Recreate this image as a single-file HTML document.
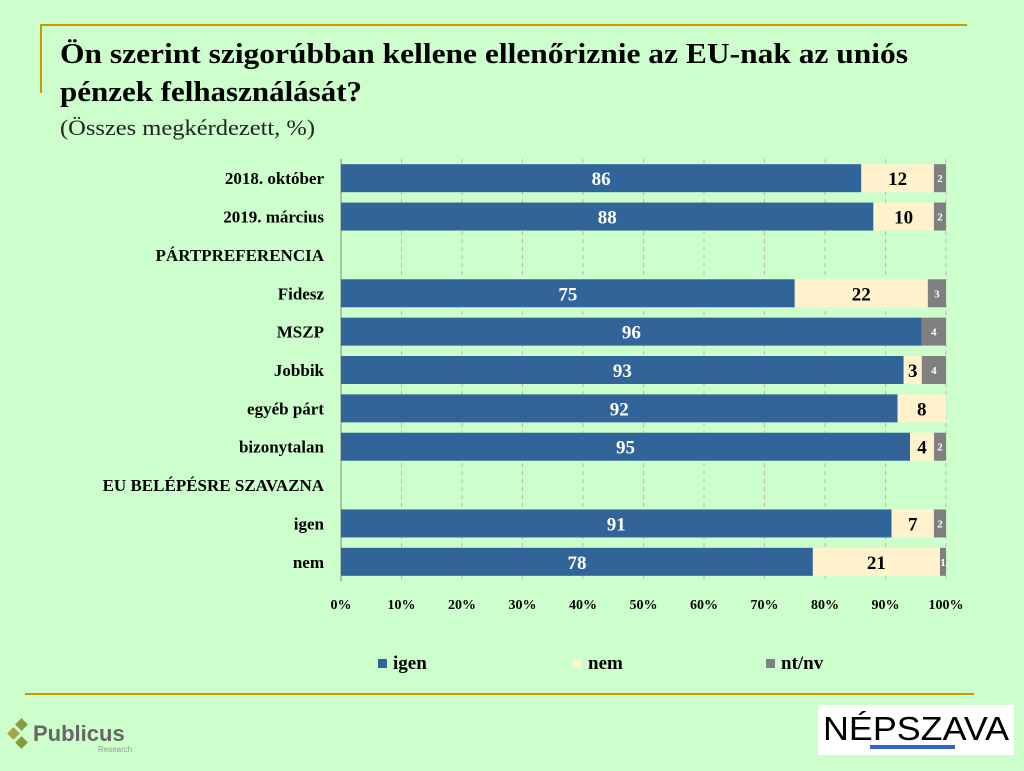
<!DOCTYPE html>
<html><head><meta charset="utf-8"><style>
body{margin:0;width:1024px;height:771px;background:#ccffcc;overflow:hidden;font-family:"Liberation Serif",serif;}
svg{position:absolute;left:0;top:0}
</style></head><body>
<svg width="1024" height="771">
<line x1="40" y1="25" x2="967" y2="25" stroke="#cc9900" stroke-width="2"/>
<line x1="41" y1="25" x2="41" y2="93" stroke="#cc9900" stroke-width="2"/>
<text x="60" y="63" font-size="29" font-weight="bold" fill="#000" textLength="848" lengthAdjust="spacingAndGlyphs">Ön szerint szigorúbban kellene ellenőrizni­e az EU-nak az uniós</text>
<text x="60" y="101" font-size="29" font-weight="bold" fill="#000" textLength="302" lengthAdjust="spacingAndGlyphs">pénzek felhasználását?</text>
<text x="60" y="135" font-size="22" fill="#222" textLength="255" lengthAdjust="spacingAndGlyphs">(Összes megkérdezett, %)</text>
<g id="plot"></g>
<line x1="25" y1="694" x2="974" y2="694" stroke="#cc9900" stroke-width="2"/>
<g>
<rect x="17" y="720" width="9" height="9" transform="rotate(45 21.5 724.5)" fill="#8a9a3a"/>
<rect x="9" y="729" width="9" height="9" transform="rotate(45 13.5 733.5)" fill="#a0a848"/>
<rect x="17" y="738" width="9" height="9" transform="rotate(45 21.5 742.5)" fill="#8a9a3a"/>
<text x="33" y="741" font-family="Liberation Sans,sans-serif" font-size="22" font-weight="bold" fill="#666">Publicus</text>
<text x="98" y="752" font-family="Liberation Sans,sans-serif" font-size="8" fill="#999">Research</text>
</g>
<g>
<rect x="818" y="705" width="196" height="50" fill="#fff"/>
<text x="916" y="740" text-anchor="middle" font-family="Liberation Sans,sans-serif" font-size="33" fill="#000" textLength="186" lengthAdjust="spacingAndGlyphs">NÉPSZAVA</text>
<rect x="870" y="745" width="85" height="4" fill="#3366cc"/>
</g>
</svg>
<script>
const categories=["2018. október","2019. március","PÁRTPREFERENCIA","Fidesz","MSZP","Jobbik","egyéb párt","bizonytalan","EU BELÉPÉSRE SZAVAZNA","igen","nem"];
const igenValues=[86,88,null,75,96,93,92,95,null,91,78];
const nemValues=[12,10,null,22,0,3,8,4,null,7,21];
const ntnvValues=[2,2,null,3,4,4,0,2,null,2,1];
const tickLabels=["0%","10%","20%","30%","40%","50%","60%","70%","80%","90%","100%"];
const seriesNames=["igen","nem","nt/nv"];
const colors=["#31659a","#fff2cc","#808080"];
const NS="http://www.w3.org/2000/svg";
const g=document.getElementById('plot');
const x0=341,x1=946,top0=159,bot=581;
const band=(bot-top0)/categories.length;
const xs=v=>x0+(x1-x0)*v/100;
const yc=i=>top0+band*(i+0.5);
function mk(t,a){const e=document.createElementNS(NS,t);for(const k in a)e.setAttribute(k,a[k]);g.appendChild(e);return e;}
tickLabels.forEach((l,i)=>{const x=xs(i*10);
 if(i>0){const ln=mk('line',{x1:x,y1:top0,x2:x,y2:bot,stroke:'#b8b8b8','stroke-dasharray':'4,4'});
 
 }
 const t=mk('text',{x:x,y:609,'text-anchor':'middle','font-size':14,'font-weight':'bold'});t.textContent=l;
 
 });
const ax=mk('line',{x1:x0,y1:top0,x2:x0,y2:bot,stroke:'#888'});


categories.forEach((c,i)=>{const y=yc(i);
 const t=mk('text',{x:324,y:y+6,'text-anchor':'end','font-size':17,'font-weight':'bold'});t.textContent=c;
 
 
 if(igenValues[i]==null)return;
 const vals=[igenValues[i],nemValues[i],ntnvValues[i]];
 const tot=vals.reduce((a,b)=>a+b,0);let acc=0;
 vals.forEach((v,s)=>{if(!v){return;}
  const p=v*100/tot;
  const r=mk('rect',{x:xs(acc),y:y-14,width:xs(acc+p)-xs(acc),height:28,fill:colors[s]});
  
  
  const fs=s==2?11:19;
  const tx=mk('text',{x:(xs(acc)+xs(acc+p))/2,y:y+(s==2?4:7),'text-anchor':'middle','font-size':fs,'font-weight':'bold',fill:s==1?'#000':'#fff'});
  tx.textContent=v;
  
  
  acc+=p;});
});
const lx=[378,573,766];
seriesNames.forEach((n,s)=>{
 const r=mk('rect',{x:lx[s],y:659,width:9,height:9,fill:colors[s]});
 
 
 const t=mk('text',{x:lx[s]+15,y:669,'font-size':19,'font-weight':'bold'});t.textContent=n;
 
 });
</script>
</body></html>
